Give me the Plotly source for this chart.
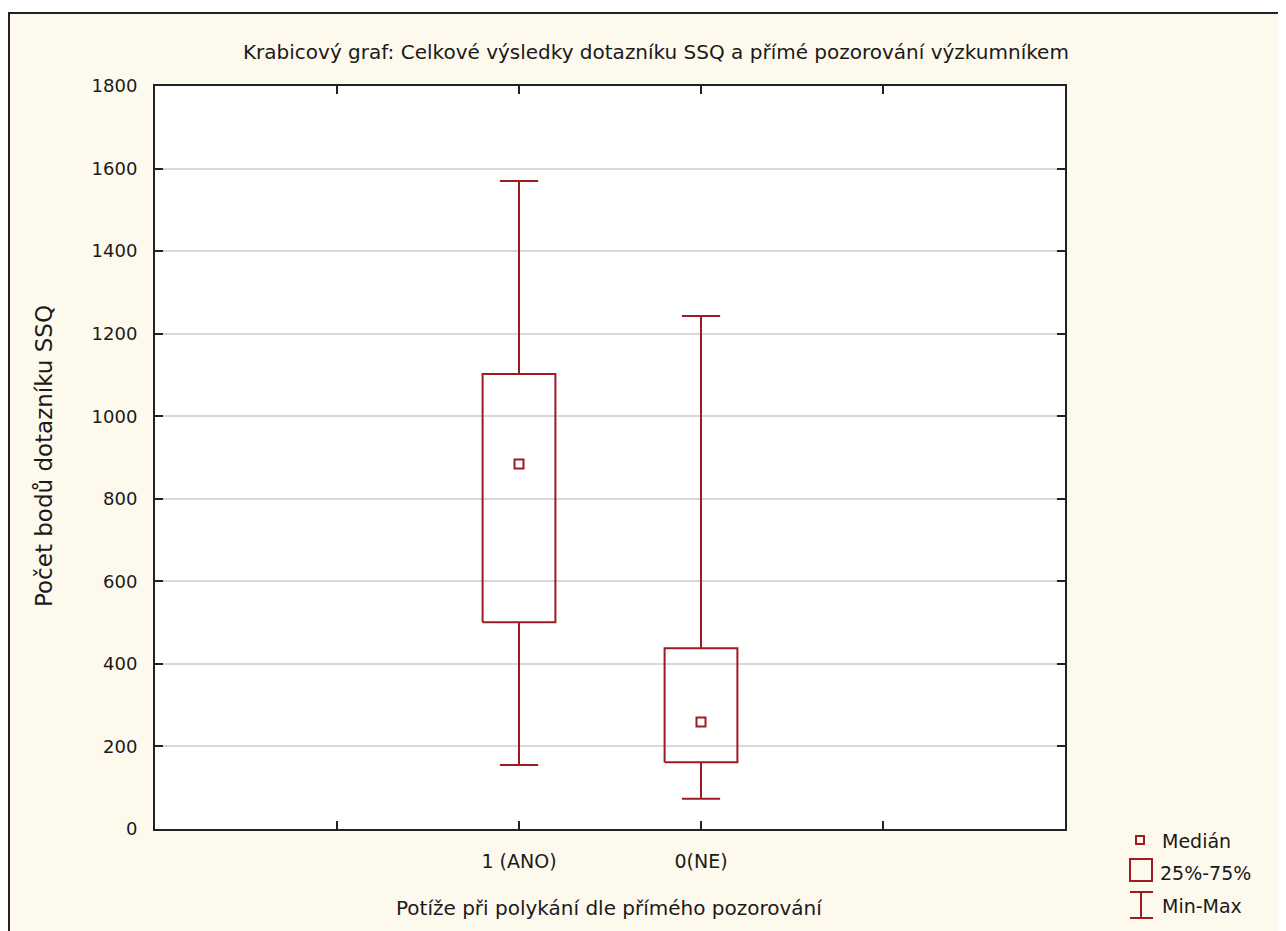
import plotly.graph_objects as go

categories = ["1 (ANO)", "0(NE)"]
cat_pos = [2, 3]
q1 = [501, 162]
median = [884, 259]
q3 = [1102, 438]
minimum = [155, 73]
maximum = [1570, 1243]

axis_ticks = [1, 2, 3, 4]
axis_ticktext = ["", "1 (ANO)", "0(NE)", ""]
y_ticks = [0, 200, 400, 600, 800, 1000, 1200, 1400, 1600, 1800]

RED = "#9E1B22"
FONT = "DejaVu Sans, Verdana, sans-serif"
TXT = "#1a1a1a"

OFF = 8  # page body margin
W, H = 1286 - OFF, 931 - OFF
L = 155 - OFF
T = 86 - OFF
PW, PH = 910, 743
R = W - L - PW
B = H - T - PH


def px(xp):
    return (xp - OFF - L) / PW


def py(yp):
    return (T + PH - (yp - OFF)) / PH


fig = go.Figure()

bw = 0.2
cw = 0.105
for i, c in enumerate(categories):
    x = cat_pos[i]
    fig.add_trace(go.Scatter(
        x=[x - bw, x + bw, x + bw, x - bw, x - bw],
        y=[q1[i], q1[i], q3[i], q3[i], q1[i]],
        mode="lines", line=dict(color=RED, width=2), hoverinfo="skip", showlegend=False))
    fig.add_trace(go.Scatter(
        x=[x, x, None, x, x, None, x - cw, x + cw, None, x - cw, x + cw],
        y=[q3[i], maximum[i], None, q1[i], minimum[i], None, maximum[i], maximum[i], None, minimum[i], minimum[i]],
        mode="lines", line=dict(color=RED, width=2), hoverinfo="skip", showlegend=False))
    fig.add_trace(go.Scatter(
        x=[x], y=[median[i]], mode="markers",
        marker=dict(symbol="square-open", size=9, color=RED, line=dict(width=2, color=RED)),
        showlegend=False, name=c))

shapes = [
    dict(type="rect", xref="paper", yref="paper", x0=px(9), x1=px(1300), y0=py(945), y1=py(13),
         fillcolor="#FEF9ED", line=dict(color="#222222", width=2), layer="below"),
    dict(type="rect", xref="paper", yref="paper", x0=0, x1=1, y0=0, y1=1,
         fillcolor="white", line=dict(width=0), layer="below"),
    dict(type="rect", xref="paper", yref="paper", x0=px(1136), x1=px(1144), y0=py(844), y1=py(836),
         line=dict(color=RED, width=2)),
    dict(type="rect", xref="paper", yref="paper", x0=px(1130), x1=px(1152), y0=py(881), y1=py(859),
         line=dict(color=RED, width=2)),
    dict(type="line", xref="paper", yref="paper", x0=px(1141), x1=px(1141), y0=py(918), y1=py(892),
         line=dict(color=RED, width=2)),
    dict(type="line", xref="paper", yref="paper", x0=px(1130), x1=px(1153), y0=py(892), y1=py(892),
         line=dict(color=RED, width=2)),
    dict(type="line", xref="paper", yref="paper", x0=px(1130), x1=px(1153), y0=py(918), y1=py(918),
         line=dict(color=RED, width=2)),
]

annotations = [
    dict(text="Medián", x=px(1160), y=py(841), xref="paper", yref="paper", xanchor="left", yanchor="middle",
         showarrow=False, font=dict(family=FONT, size=19, color=TXT)),
    dict(text="25%-75%", x=px(1158), y=py(873), xref="paper", yref="paper", xanchor="left", yanchor="middle",
         showarrow=False, font=dict(family=FONT, size=19, color=TXT)),
    dict(text="Min-Max", x=px(1160), y=py(906), xref="paper", yref="paper", xanchor="left", yanchor="middle",
         showarrow=False, font=dict(family=FONT, size=19, color=TXT)),
    dict(text="Potíže při polykání dle přímého pozorování", x=px(609), y=py(908), xref="paper", yref="paper",
         xanchor="center", yanchor="middle", showarrow=False, font=dict(family=FONT, size=20, color=TXT)),
    dict(text="Počet bodů dotazníku SSQ", x=px(44), y=py(456), xref="paper", yref="paper",
         xanchor="center", yanchor="middle", textangle=-90, showarrow=False,
         font=dict(family=FONT, size=23, color=TXT)),
    dict(text="Krabicový graf: Celkové výsledky dotazníku SSQ a přímé pozorování výzkumníkem",
         x=px(656), y=py(52), xref="paper", yref="paper", xanchor="center", yanchor="middle",
         showarrow=False, font=dict(family=FONT, size=20, color=TXT)),
]

fig.update_layout(
    width=W, height=H,
    margin=dict(l=L, r=R, t=T, b=B),
    paper_bgcolor="white",
    plot_bgcolor="rgba(0,0,0,0)",
    shapes=shapes,
    annotations=annotations,
    showlegend=False,
    xaxis=dict(range=[0, 5], tickvals=axis_ticks, ticktext=axis_ticktext, showgrid=False, zeroline=False,
               showline=True, linecolor="#222222", linewidth=2, mirror="allticks", ticks="inside",
               ticklen=8, tickwidth=2, tickcolor="#222222", ticklabelstandoff=14,
               tickfont=dict(family=FONT, size=19, color=TXT)),
    yaxis=dict(range=[0, 1800], tickvals=y_ticks, showgrid=True, gridcolor="#D8D8D8", gridwidth=2,
               zeroline=False, showline=True, linecolor="#222222", linewidth=2, mirror="allticks",
               ticks="inside", ticklen=8, tickwidth=2, tickcolor="#222222", ticklabelstandoff=12,
               tickfont=dict(family=FONT, size=18, color=TXT)),
)

fig.write_html("out.html")
